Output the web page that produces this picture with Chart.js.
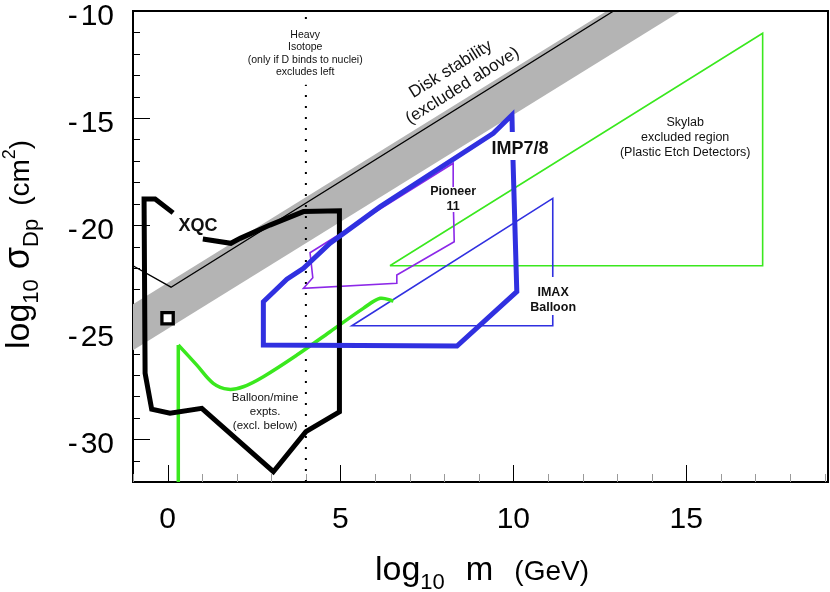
<!DOCTYPE html>
<html lang="en">
<head>
<meta charset="UTF-8">
<title>Dark matter cross-section limits</title>
<script src="https://cdn.jsdelivr.net/npm/chart.js"></script>
<style>
  html, body { margin: 0; padding: 0; background: #fff; }
  #wrap { width: 830px; height: 592px; }
</style>
</head>
<body>
<div id="wrap"><canvas id="limitsChart"></canvas></div>
<script>
// ---- data (x = log10 m [GeV], y = log10 sigma [cm^2]) ----
const xLabelled = [0, 5, 10, 15];
const yLabelled = [-30, -25, -20, -15, -10];

// disk stability band (grey) and its edge line
const bandM = [-1, 12.7, 14.85, -1];
const bandSigma = [-23.7, -10, -10, -25.85];
const diskLineM = [-1, 0.1, 12.9];
const diskLineSigma = [-21.9, -22.9, -10];

// XQC outline (open where the label sits)
const xqcM = [0.16, -0.36, -0.68, -0.65, -0.46, 0.07, 0.99, 3.06, 4.0, 4.97, 4.97, 3.93, 2.96, 2.1, 1.83, 1.02];
const xqcSigma = [-19.43, -18.78, -18.78, -26.92, -28.6, -28.79, -28.56, -31.52, -29.65, -28.72, -19.33, -19.37, -20.0, -20.62, -20.85, -20.65];
const xqcPointM = [0];
const xqcPointSigma = [-24.35];

// balloon / mine experiments (green, thick)
const mineWallM = [0.31, 0.31];
const mineWallSigma = [-32.5, -25.6];
const mineCurveM = [0.31, 0.84, 1.32, 1.76, 2.19, 2.77, 3.74, 4.7, 5.66, 6.15, 6.53];
const mineCurveSigma = [-25.6, -26.53, -27.39, -27.67, -27.55, -27.08, -26.07, -24.98, -23.89, -23.42, -23.55];

// heavy isotope limit (dotted), null = gap for the text
const isoM = [4, 4, null, 4, 4];
const isoSigma = [-32, -13.45, null, -10.28, -10.4];

// IMP7/8 (blue, thick)
const impM = [9.99, 10.1, 8.37, 2.77, 2.77, 3.45, 3.93, 4.7, 6.15, 9.42, 9.96, 9.97];
const impSigma = [-16.96, -23.11, -25.65, -25.6, -23.58, -22.53, -22.02, -20.85, -19.14, -15.71, -14.86, -15.65];

// Pioneer 11 (purple)
const pioneerM = [8.27, 8.29, 6.63, 6.63, 3.93, 4.2, 4.12, 8.26, 8.26];
const pioneerSigma = [-19.39, -20.78, -22.33, -22.72, -22.95, -22.46, -21.29, -17.11, -18.22];

// IMAX balloon (blue, thin)
const imaxM = [11.14, 11.14, 5.33, 11.14, 11.14];
const imaxSigma = [-24.2, -24.7, -24.7, -18.75, -22.42];

// Skylab (green, thin)
const skylabM = [6.43, 17.21, 17.21, 6.43];
const skylabSigma = [-21.9, -11.04, -21.9, -21.9];

function pts(xs, ys) {
  return xs.map((x, i) => ({ x: x, y: ys[i] }));
}

const FONT = '"Liberation Sans", Arial, Helvetica, sans-serif';

// text labels inside the plot, anchored in data coordinates
const notes = [
  { lines: ['XQC'], m: 0.88, s: -20.04, size: 18, bold: true },
  { lines: ['IMP7/8'], m: 10.19, s: -16.45, size: 18, bold: true },
  { lines: ['Pioneer', '11'], m: 8.26, s: -18.41, size: 12.5, bold: true, lh: 15.7 },
  { lines: ['IMAX', 'Balloon'], m: 11.15, s: -23.16, size: 12.5, bold: true, lh: 14.6 },
  { lines: ['Skylab', 'excluded region', '(Plastic Etch Detectors)'], m: 14.97, s: -15.22, size: 12.5, lh: 15 },
  { lines: ['Balloon/mine', 'expts.', '(excl. below)'], m: 2.82, s: -28.09, size: 11.5, lh: 13.7 },
  { lines: ['Heavy', 'Isotope', '(only if D binds to nuclei)', 'excludes left'], m: 3.98, s: -11.12, size: 10.5, lh: 12.5 },
  { lines: ['Disk stability'], m: 8.19, s: -12.72, size: 17, angle: -32 },
  { lines: ['(excluded above)'], m: 8.53, s: -13.49, size: 17, angle: -32 }
];

function drawRich(ctx, parts) {
  let cx = 0;
  parts.forEach(p => {
    if (p.gap) { cx += p.gap; return; }
    ctx.font = p.s + 'px ' + FONT;
    ctx.fillText(p.t, cx, p.dy || 0);
    cx += ctx.measureText(p.t).width;
  });
}

const decor = {
  id: 'decor',
  beforeDatasetsDraw(chart) {
    const { ctx, chartArea: a, scales: { x, y } } = chart;
    ctx.save();
    for (let i = -1; i <= 19; i++) {
      const px = Math.round(x.getPixelForValue(i)) + 0.5;
      const major = i % 5 === 0;
      ctx.strokeStyle = major ? '#000' : '#9a9a9a';
      ctx.lineWidth = 1;
      ctx.beginPath();
      ctx.moveTo(px, a.bottom);
      ctx.lineTo(px, a.bottom - (major ? 17 : 8));
      ctx.stroke();
    }
    for (let j = -32; j <= -10; j++) {
      const py = Math.round(y.getPixelForValue(j)) + 0.5;
      const major = j % 5 === 0;
      ctx.strokeStyle = '#000';
      ctx.lineWidth = 1;
      ctx.beginPath();
      ctx.moveTo(a.left, py);
      ctx.lineTo(a.left + (major ? 17 : 7), py);
      ctx.stroke();
    }
    ctx.restore();
  },
  afterDatasetsDraw(chart) {
    const { ctx, chartArea: a, scales: { x, y } } = chart;
    ctx.save();
    // frame top / right
    ctx.strokeStyle = '#000';
    ctx.lineWidth = 2;
    ctx.beginPath();
    ctx.moveTo(a.left, a.top);
    ctx.lineTo(a.right, a.top);
    ctx.lineTo(a.right, a.bottom);
    ctx.stroke();

    // tick labels
    ctx.fillStyle = '#000';
    ctx.font = '30px ' + FONT;
    ctx.textBaseline = 'alphabetic';
    ctx.textAlign = 'center';
    xLabelled.forEach(v => ctx.fillText(String(v), x.getPixelForValue(v), 528));
    ctx.textAlign = 'right';
    yLabelled.forEach(v => {
      const py = y.getPixelForValue(v) + 14;
      const digits = String(Math.abs(v));
      ctx.fillText(digits, 114, py);
      ctx.fillText('-', 114 - ctx.measureText(digits).width - 3, py);
    });

    // notes
    ctx.fillStyle = '#111';
    ctx.textAlign = 'center';
    ctx.textBaseline = 'middle';
    notes.forEach(n => {
      ctx.save();
      ctx.translate(x.getPixelForValue(n.m), y.getPixelForValue(n.s));
      if (n.angle) ctx.rotate(n.angle * Math.PI / 180);
      ctx.font = (n.bold ? 'bold ' : '') + n.size + 'px ' + FONT;
      n.lines.forEach((t, k) => ctx.fillText(t, 0, k * (n.lh || 0)));
      ctx.restore();
    });

    // axis titles
    ctx.fillStyle = '#000';
    ctx.textAlign = 'left';
    ctx.textBaseline = 'alphabetic';
    ctx.save();
    ctx.translate(375, 580);
    drawRich(ctx, [
      { t: 'log', s: 34 }, { t: '10', s: 22, dy: 9 }, { gap: 21 },
      { t: 'm', s: 33 }, { gap: 21 }, { t: '(GeV)', s: 28 }
    ]);
    ctx.restore();
    ctx.save();
    ctx.translate(29, 349);
    ctx.rotate(-Math.PI / 2);
    drawRich(ctx, [
      { t: 'log', s: 34 }, { t: '10', s: 22, dy: 9 }, { gap: 10 },
      { t: 'σ', s: 36 }, { t: 'Dp', s: 22, dy: 9 }, { gap: 13 },
      { t: '(cm', s: 28 }, { t: '2', s: 18, dy: -14 }, { t: ')', s: 28 }
    ]);
    ctx.restore();
    ctx.restore();
  }
};

function line(data, color, width, order, extra) {
  return Object.assign({
    data: data,
    showLine: true,
    borderColor: color,
    borderWidth: width,
    pointRadius: 0,
    fill: false,
    tension: 0,
    spanGaps: false,
    borderJoinStyle: 'miter',
    order: order
  }, extra || {});
}

const blue = 'rgb(48, 48, 224)';
const green = 'rgb(58, 232, 30)';

new Chart(document.getElementById('limitsChart'), {
  type: 'scatter',
  data: {
    datasets: [
      line(pts(bandM, bandSigma), 'rgba(0,0,0,0)', 0, 20, { fill: 'shape', backgroundColor: '#b4b4b4' }),
      line(pts(diskLineM, diskLineSigma), '#000', 1.3, 19),
      line(pts(isoM, isoSigma), '#000', 2, 18, { borderDash: [2, 9] }),
      line(pts(skylabM, skylabSigma), green, 1.6, 17),
      line(pts(imaxM, imaxSigma), blue, 1.6, 16),
      line(pts(pioneerM, pioneerSigma), 'rgb(140, 40, 232)', 1.6, 15),
      line(pts(mineWallM, mineWallSigma), green, 3.5, 14),
      line(pts(mineCurveM, mineCurveSigma), green, 3.5, 13, { tension: 0.35 }),
      line(pts(xqcM, xqcSigma), '#000', 5, 12),
      line(pts(impM, impSigma), blue, 5, 11),
      { data: pts(xqcPointM, xqcPointSigma), pointStyle: 'rect', pointRadius: 8,
        borderWidth: 3.3, borderColor: '#000', backgroundColor: '#fff', order: 1 }
    ]
  },
  options: {
    responsive: true,
    maintainAspectRatio: false,
    animation: false,
    events: [],
    layout: { padding: { top: 11, right: 2, left: 0, bottom: 0 }, autoPadding: false },
    plugins: { legend: { display: false }, tooltip: { enabled: false } },
    scales: {
      x: {
        type: 'linear', min: -1, max: 19.1,
        grid: { display: false },
        border: { display: true, color: '#000', width: 2 },
        ticks: { display: false },
        afterFit: s => { s.height = 110; }
      },
      y: {
        type: 'linear', min: -32, max: -10,
        grid: { display: false },
        border: { display: true, color: '#000', width: 2 },
        ticks: { display: false },
        afterFit: s => { s.width = 133; }
      }
    }
  },
  plugins: [decor]
});
</script>
</body>
</html>
